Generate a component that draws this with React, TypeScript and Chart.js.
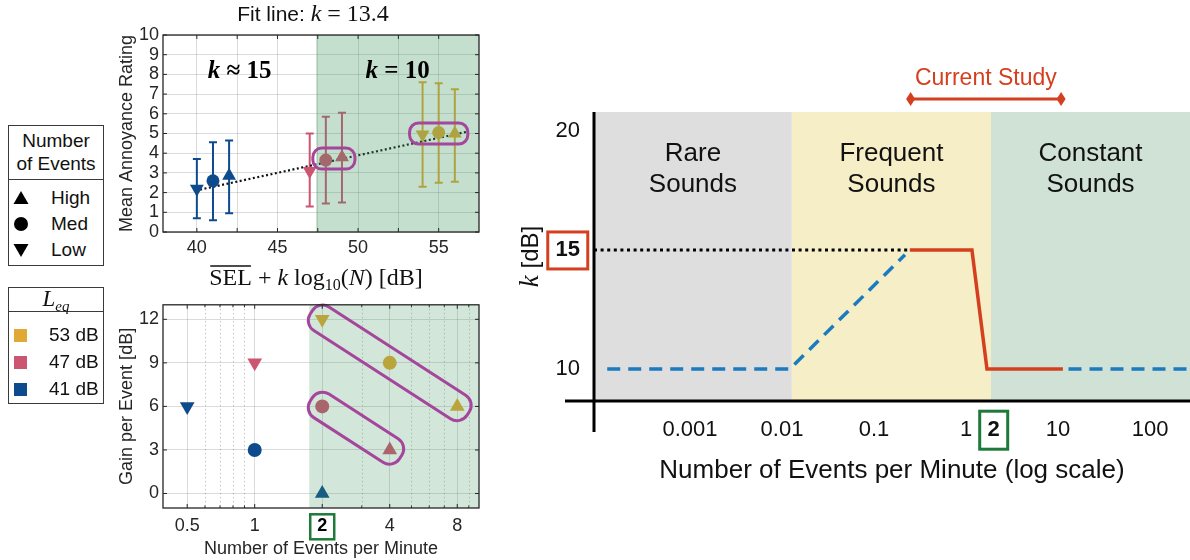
import React, { useEffect, useRef } from 'react';
import { Chart, registerables } from 'chart.js';

Chart.register(...registerables);

const SANS = '"Liberation Sans", Arial, Helvetica, sans-serif';
const SERIF = '"Liberation Serif", "DejaVu Serif", serif';
const INK = '#262626';
const GRID = 'rgba(0,0,0,0.14)';
const PURPLE = '#a4469c';
const RED = '#d4401f';
const BLUE = '#1b7bbf';
const GREENBOX = '#1e7a38';

// ===== legends =====
const eventLegend = ['High', 'Med', 'Low'];
const eventLegendShapes = ['up', 'circle', 'down'];
const leqLegend = ['53 dB', '47 dB', '41 dB'];
const leqColors = ['#e0a935', '#cc5672', '#0d4b8d'];

// data order inside every series: Low, Med, High number of events
const markerStyles = ['triangle', 'circle', 'triangle'];
const markerRotations = [180, 0, 0];

// ===== top-left: mean annoyance vs SEL + k log10(N) =====
const topX53 = [54, 55, 56];
const topMean53 = [4.95, 5.05, 5.0];
const topLow53 = [2.3, 2.5, 2.55];
const topHigh53 = [7.6, 7.55, 7.25];
const topX47 = [47, 48, 49];
const topMean47 = [3.1, 3.65, 3.8];
const topLow47 = [1.3, 1.45, 1.5];
const topHigh47 = [5.0, 5.85, 6.05];
const topX41 = [40, 41, 42];
const topMean41 = [2.2, 2.6, 2.85];
const topLow41 = [0.7, 0.6, 0.95];
const topHigh41 = [3.7, 4.55, 4.65];
const fitX = [40.2, 56.7];
const fitY = [2.15, 5.08];
const topXTicks = [40, 42.5, 45, 47.5, 50, 52.5, 55];
const topYTicks = [0, 1, 2, 3, 4, 5, 6, 7, 8, 9, 10];
const topXRange = [37.9, 57.5];
const topYRange = [0, 10];
const topShadeFrom = 47.4;
const topKLabelY = 8.2;
const topKRare = ' ≈ 15';
const topKConst = ' = 10';
const fitK = '13.4';

// ===== bottom-left: gain per event vs events per minute =====
const botN53 = [2, 4, 8];
const botGain53 = [12, 9, 6];
const botN47 = [1, 2, 4];
const botGain47 = [9, 6, 3];
const botN41 = [0.5, 1, 2];
const botGain41 = [6, 3, 0];
const botXTicks = [0.5, 1, 2, 4, 8];
const botXMinor = [0.6, 0.7, 0.8, 0.9, 3, 5, 6, 7, 9];
const botYTicks = [0, 3, 6, 9, 12];
const botXRange = [0.39, 10];
const botYRange = [-1, 13];
const botShadeFrom = 1.75;
const studyN = 2;

// ===== right: conceptual k vs events per minute =====
const kYTicks = [10, 15, 20];
const kXTicks = [0.001, 0.01, 0.1, 1, 2, 10, 100];
const kXRange = [9.05e-5, 272];
const kYRange = [8.65, 20.8];
const kHighlight = 15;
const regionNames = [['Rare', 'Sounds'], ['Frequent', 'Sounds'], ['Constant', 'Sounds']];
const regionEdges = [9.05e-5, 0.0128, 1.87, 272];
const regionColors = ['#dedede', '#f5eec6', '#cfe2d5'];
const dottedX = [9.05e-5, 0.245];
const dottedK = [15, 15];
const studyX = [0.245, 1.16, 1.69, 11.3];
const studyK = [15, 15, 10, 10];
const modelX1 = [1.26e-4, 0.0122, 0.217];
const modelK1 = [10, 10, 14.8];
const modelX2 = [13, 272];
const modelK2 = [10, 10];
const studyRange = [0.25, 10.8];

type Run = { t: string; f: string; dy?: number; over?: number };

function drawRuns(ctx: CanvasRenderingContext2D, runs: Run[], cx: number, baseline: number, color: string) {
  ctx.save();
  ctx.fillStyle = color;
  ctx.strokeStyle = color;
  ctx.textAlign = 'left';
  ctx.textBaseline = 'alphabetic';
  let total = 0;
  const ws = runs.map((r) => {
    ctx.font = r.f;
    const w = ctx.measureText(r.t).width;
    total += w;
    return w;
  });
  let x = cx - total / 2;
  runs.forEach((r, i) => {
    ctx.font = r.f;
    ctx.fillText(r.t, x, baseline + (r.dy || 0));
    if (r.over) {
      ctx.lineWidth = 1.3;
      ctx.beginPath();
      ctx.moveTo(x + 1, baseline - r.over);
      ctx.lineTo(x + ws[i] - 1, baseline - r.over);
      ctx.stroke();
    }
    x += ws[i];
  });
  ctx.restore();
}

function roundRectPath(ctx: CanvasRenderingContext2D, x: number, y: number, w: number, h: number, r: number) {
  ctx.beginPath();
  ctx.moveTo(x + r, y);
  ctx.lineTo(x + w - r, y);
  ctx.arcTo(x + w, y, x + w, y + r, r);
  ctx.lineTo(x + w, y + h - r);
  ctx.arcTo(x + w, y + h, x + w - r, y + h, r);
  ctx.lineTo(x + r, y + h);
  ctx.arcTo(x, y + h, x, y + h - r, r);
  ctx.lineTo(x, y + r);
  ctx.arcTo(x, y, x + r, y, r);
  ctx.closePath();
}

function capsule(ctx: CanvasRenderingContext2D, x1: number, y1: number, x2: number, y2: number, pad: number, half: number, r: number) {
  const ang = Math.atan2(y2 - y1, x2 - x1);
  const len = Math.hypot(x2 - x1, y2 - y1);
  ctx.save();
  ctx.translate(x1, y1);
  ctx.rotate(ang);
  roundRectPath(ctx, -pad, -half, len + 2 * pad, 2 * half, r);
  ctx.strokeStyle = PURPLE;
  ctx.lineWidth = 3;
  ctx.stroke();
  ctx.restore();
}

function boxTicks(chart: any, len: number) {
  const { ctx, chartArea: a } = chart;
  const xs = chart.scales.x;
  const ys = chart.scales.y;
  ctx.save();
  ctx.strokeStyle = INK;
  ctx.lineWidth = 1;
  ctx.beginPath();
  xs.ticks.forEach((t: any) => {
    const p = xs.getPixelForValue(t.value);
    ctx.moveTo(p, a.bottom);
    ctx.lineTo(p, a.bottom - len);
    ctx.moveTo(p, a.top);
    ctx.lineTo(p, a.top + len);
  });
  ys.ticks.forEach((t: any) => {
    const p = ys.getPixelForValue(t.value);
    ctx.moveTo(a.left, p);
    ctx.lineTo(a.left + len, p);
    ctx.moveTo(a.right, p);
    ctx.lineTo(a.right - len, p);
  });
  ctx.stroke();
  ctx.lineWidth = 1.3;
  ctx.strokeRect(a.left, a.top, a.right - a.left, a.bottom - a.top);
  ctx.restore();
}

function pts(xs: number[], ys: number[]) {
  return xs.map((x, i) => ({ x, y: ys[i] }));
}

function markerDataset(label: string, xs: number[], ys: number[], color: string, rTri: number, rCir: number) {
  return {
    label,
    data: pts(xs, ys),
    backgroundColor: color,
    borderColor: color,
    borderWidth: 0,
    pointStyle: markerStyles,
    pointRotation: markerRotations,
    pointRadius: markerStyles.map((s) => (s === 'circle' ? rCir : rTri)),
    pointHoverRadius: markerStyles.map((s) => (s === 'circle' ? rCir : rTri)),
    showLine: false,
  };
}

const topSeries = [
  { label: leqLegend[0], x: topX53, mean: topMean53, lo: topLow53, hi: topHigh53, color: leqColors[0] },
  { label: leqLegend[1], x: topX47, mean: topMean47, lo: topLow47, hi: topHigh47, color: leqColors[1] },
  { label: leqLegend[2], x: topX41, mean: topMean41, lo: topLow41, hi: topHigh41, color: leqColors[2] },
];
// highlighted groups: [series index, point indices]
const topGroups: [number, number[]][] = [[1, [1, 2]], [0, [0, 1, 2]]];

const botSeries = [
  { label: leqLegend[0], n: botN53, g: botGain53, color: leqColors[0] },
  { label: leqLegend[1], n: botN47, g: botGain47, color: leqColors[1] },
  { label: leqLegend[2], n: botN41, g: botGain41, color: leqColors[2] },
];
const botGroups: [number, number[]][] = [[0, [0, 1, 2]], [1, [1, 2]]];

const topPlugin = {
  id: 'topDecor',
  beforeDatasetsDraw(chart: any) {
    const { ctx } = chart;
    const xs = chart.scales.x;
    const ys = chart.scales.y;
    ctx.save();
    topSeries.forEach((s) => {
      ctx.strokeStyle = s.color;
      ctx.lineWidth = 2;
      s.x.forEach((x, i) => {
        const px = xs.getPixelForValue(x);
        const p1 = ys.getPixelForValue(s.lo[i]);
        const p2 = ys.getPixelForValue(s.hi[i]);
        ctx.beginPath();
        ctx.moveTo(px, p1);
        ctx.lineTo(px, p2);
        ctx.moveTo(px - 4, p1);
        ctx.lineTo(px + 4, p1);
        ctx.moveTo(px - 4, p2);
        ctx.lineTo(px + 4, p2);
        ctx.stroke();
      });
    });
    ctx.restore();
  },
  afterDatasetsDraw(chart: any) {
    const { ctx, chartArea: a } = chart;
    const xs = chart.scales.x;
    const ys = chart.scales.y;
    const sx = xs.getPixelForValue(topShadeFrom);
    ctx.save();
    ctx.fillStyle = 'rgba(62,150,92,0.30)';
    ctx.fillRect(sx, a.top, a.right - sx, a.bottom - a.top);
    ctx.restore();

    topGroups.forEach(([si, idx]) => {
      const s = topSeries[si];
      const x1 = xs.getPixelForValue(s.x[idx[0]]);
      const x2 = xs.getPixelForValue(s.x[idx[idx.length - 1]]);
      const yAvg = idx.reduce((acc, i) => acc + ys.getPixelForValue(s.mean[i]), 0) / idx.length;
      capsule(ctx, x1, yAvg, x2, yAvg, 13, 10.5, 9);
    });

    const ky = ys.getPixelForValue(topKLabelY) + 8;
    const kx1 = xs.getPixelForValue((topXRange[0] + topShadeFrom) / 2);
    const kx2 = xs.getPixelForValue((topShadeFrom + topXRange[1]) / 2);
    drawRuns(ctx, [{ t: 'k', f: `bold italic 25px ${SERIF}` }, { t: topKRare, f: `bold 25px ${SERIF}` }], kx1, ky, '#000');
    drawRuns(ctx, [{ t: 'k', f: `bold italic 25px ${SERIF}` }, { t: topKConst, f: `bold 25px ${SERIF}` }], kx2, ky, '#000');

    boxTicks(chart, 4);

    const cx = (a.left + a.right) / 2 - 8;
    drawRuns(
      ctx,
      [
        { t: 'Fit line: ', f: `21px ${SANS}` },
        { t: 'k', f: `italic 24px ${SERIF}` },
        { t: ' = ' + fitK, f: `24px ${SERIF}` },
      ],
      cx,
      21,
      '#111'
    );
    drawRuns(
      ctx,
      [
        { t: 'SEL', f: `24px ${SERIF}`, over: 19 },
        { t: ' + ', f: `24px ${SERIF}` },
        { t: 'k', f: `italic 24px ${SERIF}` },
        { t: ' log', f: `24px ${SERIF}` },
        { t: '10', f: `16px ${SERIF}`, dy: 5 },
        { t: '(', f: `24px ${SERIF}` },
        { t: 'N', f: `italic 24px ${SERIF}` },
        { t: ') [dB]', f: `24px ${SERIF}` },
      ],
      cx + 3,
      285,
      '#111'
    );
  },
};

const botPlugin = {
  id: 'botDecor',
  beforeDatasetsDraw(chart: any) {
    const { ctx, chartArea: a } = chart;
    const xs = chart.scales.x;
    ctx.save();
    ctx.strokeStyle = 'rgba(0,0,0,0.22)';
    ctx.lineWidth = 1;
    ctx.setLineDash([1.5, 2.5]);
    botXMinor.forEach((v) => {
      const p = Math.round(xs.getPixelForValue(v)) + 0.5;
      ctx.beginPath();
      ctx.moveTo(p, a.top);
      ctx.lineTo(p, a.bottom);
      ctx.stroke();
    });
    ctx.setLineDash([]);
    ctx.strokeStyle = INK;
    ctx.beginPath();
    botXMinor.forEach((v) => {
      const p = xs.getPixelForValue(v);
      ctx.moveTo(p, a.bottom);
      ctx.lineTo(p, a.bottom - 2.5);
      ctx.moveTo(p, a.top);
      ctx.lineTo(p, a.top + 2.5);
    });
    ctx.stroke();
    ctx.restore();
  },
  afterDatasetsDraw(chart: any) {
    const { ctx, chartArea: a } = chart;
    const xs = chart.scales.x;
    const ys = chart.scales.y;
    const sx = xs.getPixelForValue(botShadeFrom);
    ctx.save();
    ctx.fillStyle = 'rgba(62,150,92,0.23)';
    ctx.fillRect(sx, a.top, a.right - sx, a.bottom - a.top);
    ctx.restore();

    botGroups.forEach(([si, idx]) => {
      const s = botSeries[si];
      const i1 = idx[0];
      const i2 = idx[idx.length - 1];
      capsule(
        ctx,
        xs.getPixelForValue(s.n[i1]),
        ys.getPixelForValue(s.g[i1]),
        xs.getPixelForValue(s.n[i2]),
        ys.getPixelForValue(s.g[i2]),
        13,
        14,
        12
      );
    });

    boxTicks(chart, 4);

    const px = xs.getPixelForValue(studyN);
    const cy = a.bottom + 8 + 10.8;
    ctx.save();
    ctx.strokeStyle = GREENBOX;
    ctx.lineWidth = 2.5;
    ctx.strokeRect(px - 12, cy - 12.5, 24, 25);
    ctx.restore();
  },
};

const rightPlugin = {
  id: 'rightDecor',
  beforeDatasetsDraw(chart: any) {
    const { ctx, chartArea: a } = chart;
    const xs = chart.scales.x;
    ctx.save();
    regionColors.forEach((c, i) => {
      const x1 = Math.max(a.left, xs.getPixelForValue(regionEdges[i]));
      const x2 = Math.min(a.right, xs.getPixelForValue(regionEdges[i + 1]));
      ctx.fillStyle = c;
      ctx.fillRect(x1, a.top, x2 - x1, a.bottom - a.top);
      ctx.fillStyle = '#111';
      ctx.font = `26px ${SANS}`;
      ctx.textAlign = 'center';
      ctx.textBaseline = 'middle';
      regionNames[i].forEach((line, j) => {
        ctx.fillText(line, (x1 + x2) / 2, a.top + 42 + j * 31);
      });
    });
    ctx.restore();
  },
  afterDatasetsDraw(chart: any) {
    const { ctx, chartArea: a } = chart;
    const xs = chart.scales.x;
    const ys = chart.scales.y;
    ctx.save();
    // axes
    ctx.strokeStyle = '#000';
    ctx.lineWidth = 3;
    ctx.beginPath();
    ctx.moveTo(a.left, a.top);
    ctx.lineTo(a.left, a.bottom + 31);
    ctx.moveTo(a.left - 29, a.bottom);
    ctx.lineTo(a.right, a.bottom);
    ctx.stroke();

    // boxed 15
    ctx.font = `bold 22px ${SANS}`;
    const tw = ctx.measureText(String(kHighlight)).width;
    const bx = a.left - 14 - tw / 2;
    const by = ys.getPixelForValue(kHighlight);
    ctx.strokeStyle = RED;
    ctx.lineWidth = 3;
    ctx.strokeRect(bx - 20, by - 18, 40, 37);

    // boxed 2
    const gx = xs.getPixelForValue(studyN);
    const gy = a.bottom + 16 + 13.2;
    ctx.strokeStyle = GREENBOX;
    ctx.strokeRect(gx - 14, gy - 19, 28, 38);

    // current study range
    const sx1 = xs.getPixelForValue(studyRange[0]);
    const sx2 = xs.getPixelForValue(studyRange[1]);
    const sy = 99;
    ctx.strokeStyle = RED;
    ctx.fillStyle = RED;
    ctx.lineWidth = 3;
    ctx.beginPath();
    ctx.moveTo(sx1, sy);
    ctx.lineTo(sx2, sy);
    ctx.stroke();
    [sx1, sx2].forEach((x) => {
      ctx.beginPath();
      ctx.moveTo(x, sy - 7);
      ctx.lineTo(x + 4.5, sy);
      ctx.lineTo(x, sy + 7);
      ctx.lineTo(x - 4.5, sy);
      ctx.closePath();
      ctx.fill();
    });
    ctx.font = `23px ${SANS}`;
    ctx.textAlign = 'center';
    ctx.textBaseline = 'middle';
    ctx.fillText('Current Study', (sx1 + sx2) / 2, 79);

    // y title
    ctx.translate(30, (a.top + a.bottom) / 2);
    ctx.rotate(-Math.PI / 2);
    drawRuns(ctx, [{ t: 'k', f: `italic 27px ${SERIF}` }, { t: ' [dB]', f: `24px ${SANS}` }], 0, 8, '#111');
    ctx.restore();
  },
};

function TopChart() {
  const ref = useRef<HTMLCanvasElement>(null);
  useEffect(() => {
    if (!ref.current) return;
    const datasets: any[] = topSeries.map((s) => markerDataset(s.label, s.x, s.mean, s.color, 8, 6.5));
    datasets.push({
      label: 'Fit line',
      data: pts(fitX, fitY),
      showLine: true,
      borderColor: '#111',
      borderWidth: 2.2,
      borderDash: [2, 2.5],
      pointRadius: 0,
    });
    const chart = new Chart(ref.current, {
      type: 'scatter',
      data: { datasets },
      options: {
        responsive: false,
        animation: false,
        devicePixelRatio: 1,
        layout: { padding: { top: 35, right: 11, left: 0, bottom: 0 } },
        plugins: { legend: { display: false }, tooltip: { enabled: false } },
        scales: {
          x: {
            type: 'linear',
            min: topXRange[0],
            max: topXRange[1],
            afterBuildTicks: (s: any) => {
              s.ticks = topXTicks.map((v) => ({ value: v }));
            },
            afterFit: (s: any) => {
              s.height = 58;
            },
            grid: { color: GRID, drawTicks: false },
            border: { display: false },
            ticks: {
              padding: 5,
              autoSkip: false,
              maxRotation: 0,
              color: INK,
              font: { family: SANS, size: 18 },
              callback: (v: any) => (Number(v) % 5 === 0 ? String(v) : ''),
            },
          },
          y: {
            type: 'linear',
            min: topYRange[0],
            max: topYRange[1],
            afterBuildTicks: (s: any) => {
              s.ticks = topYTicks.map((v) => ({ value: v }));
            },
            afterFit: (s: any) => {
              s.width = 63;
            },
            grid: { color: GRID, drawTicks: false },
            border: { display: false },
            ticks: { padding: 4, autoSkip: false, color: INK, font: { family: SANS, size: 18 }, callback: (v: any) => String(v) },
            title: {
              display: true,
              text: 'Mean Annoyance Rating',
              color: INK,
              font: { family: SANS, size: 18 },
              padding: { top: 16, bottom: 0 },
            },
          },
        },
      } as any,
      plugins: [topPlugin],
    });
    return () => chart.destroy();
  }, []);
  return <canvas ref={ref} width={390} height={290} style={{ position: 'absolute', left: 100, top: 0, width: 390, height: 290 }} />;
}

function BottomChart() {
  const ref = useRef<HTMLCanvasElement>(null);
  useEffect(() => {
    if (!ref.current) return;
    const datasets: any[] = botSeries.map((s) => markerDataset(s.label, s.n, s.g, s.color, 8.5, 7));
    const chart = new Chart(ref.current, {
      type: 'scatter',
      data: { datasets },
      options: {
        responsive: false,
        animation: false,
        devicePixelRatio: 1,
        layout: { padding: { top: 7, right: 11, left: 0, bottom: 0 } },
        plugins: { legend: { display: false }, tooltip: { enabled: false } },
        scales: {
          x: {
            type: 'logarithmic',
            min: botXRange[0],
            max: botXRange[1],
            afterBuildTicks: (s: any) => {
              s.ticks = botXTicks.map((v) => ({ value: v }));
            },
            afterFit: (s: any) => {
              s.height = 52;
            },
            grid: { color: GRID, drawTicks: false },
            border: { display: false },
            ticks: {
              padding: 7,
              autoSkip: false,
              maxRotation: 0,
              color: (c: any) => (c.tick && c.tick.value === studyN ? '#000' : INK),
              font: (c: any) => ({ family: SANS, size: 18, weight: c.tick && c.tick.value === studyN ? 'bold' : 'normal' }),
              callback: (v: any) => String(v),
            },
            title: {
              display: true,
              text: 'Number of Events per Minute',
              color: INK,
              font: { family: SANS, size: 18 },
              padding: { top: 0, bottom: 0 },
            },
          },
          y: {
            type: 'linear',
            min: botYRange[0],
            max: botYRange[1],
            afterBuildTicks: (s: any) => {
              s.ticks = botYTicks.map((v) => ({ value: v }));
            },
            afterFit: (s: any) => {
              s.width = 63;
            },
            grid: { color: GRID, drawTicks: false },
            border: { display: false },
            ticks: { padding: 4, autoSkip: false, color: INK, font: { family: SANS, size: 18 }, callback: (v: any) => String(v) },
            title: {
              display: true,
              text: 'Gain per Event [dB]',
              color: INK,
              font: { family: SANS, size: 18 },
              padding: { top: 16, bottom: 0 },
            },
          },
        },
      } as any,
      plugins: [botPlugin],
    });
    return () => chart.destroy();
  }, []);
  return <canvas ref={ref} width={390} height={270} style={{ position: 'absolute', left: 100, top: 290, width: 390, height: 270 }} />;
}

function RightChart() {
  const ref = useRef<HTMLCanvasElement>(null);
  useEffect(() => {
    if (!ref.current) return;
    const line = (label: string, xs: number[], ys: number[], color: string, width: number, dash: number[]) => ({
      label,
      data: pts(xs, ys),
      showLine: true,
      borderColor: color,
      backgroundColor: color,
      borderWidth: width,
      borderDash: dash,
      borderCapStyle: 'butt',
      borderJoinStyle: 'miter',
      pointRadius: 0,
    });
    const datasets: any[] = [
      line('Current study', studyX, studyK, RED, 3.5, []),
      line('Model (rare to frequent)', modelX1, modelK1, BLUE, 3.5, [13, 8]),
      line('Model (constant)', modelX2, modelK2, BLUE, 3.5, [13, 8]),
      line('k = 15 reference', dottedX, dottedK, '#000', 3, [3, 3.6]),
    ];
    const chart = new Chart(ref.current, {
      type: 'scatter',
      data: { datasets },
      options: {
        responsive: false,
        animation: false,
        devicePixelRatio: 1,
        layout: { padding: { top: 112, right: 0, left: 0, bottom: 0 } },
        plugins: { legend: { display: false }, tooltip: { enabled: false } },
        scales: {
          x: {
            type: 'logarithmic',
            min: kXRange[0],
            max: kXRange[1],
            afterBuildTicks: (s: any) => {
              s.ticks = kXTicks.map((v) => ({ value: v }));
            },
            afterFit: (s: any) => {
              s.height = 159;
            },
            grid: { display: false, drawTicks: false },
            border: { display: false },
            ticks: {
              padding: 16,
              autoSkip: false,
              maxRotation: 0,
              color: '#111',
              font: (c: any) => ({ family: SANS, size: 22, weight: c.tick && c.tick.value === studyN ? 'bold' : 'normal' }),
              callback: (v: any) => String(v),
            },
            title: {
              display: true,
              text: 'Number of Events per Minute (log scale)',
              color: '#111',
              font: { family: SANS, size: 26 },
              padding: { top: 0, bottom: 74 },
            },
          },
          y: {
            type: 'linear',
            min: kYRange[0],
            max: kYRange[1],
            afterBuildTicks: (s: any) => {
              s.ticks = kYTicks.map((v) => ({ value: v }));
            },
            afterFit: (s: any) => {
              s.width = 94;
            },
            grid: { display: false, drawTicks: false },
            border: { display: false },
            ticks: {
              padding: 14,
              autoSkip: false,
              color: '#111',
              font: (c: any) => ({ family: SANS, size: 22, weight: c.tick && c.tick.value === kHighlight ? 'bold' : 'normal' }),
              callback: (v: any) => String(v),
            },
          },
        },
      } as any,
      plugins: [rightPlugin],
    });
    return () => chart.destroy();
  }, []);
  return <canvas ref={ref} width={690} height={560} style={{ position: 'absolute', left: 500, top: 0, width: 690, height: 560 }} />;
}

function Shape({ kind, color }: { kind: string; color: string }) {
  return (
    <svg width={18} height={18} viewBox="0 0 18 18" style={{ display: 'block' }}>
      {kind === 'up' && <polygon points="9,2 16.5,15 1.5,15" fill={color} />}
      {kind === 'down' && <polygon points="1.5,3 16.5,3 9,16" fill={color} />}
      {kind === 'circle' && <circle cx={9} cy={9} r={7} fill={color} />}
    </svg>
  );
}

function Legends() {
  const border = '1.5px solid #3a3a3a';
  return (
    <>
      <div
        style={{
          position: 'absolute',
          left: 8,
          top: 125,
          width: 96,
          height: 141,
          border,
          boxSizing: 'border-box',
          fontFamily: SANS,
          fontSize: 19,
          color: '#111',
          background: '#fff',
        }}
      >
        <div style={{ height: 54, borderBottom: border, textAlign: 'center', lineHeight: '23px', paddingTop: 3, boxSizing: 'border-box' }}>
          Number
          <br />
          of Events
        </div>
        {eventLegend.map((t, i) => (
          <div key={t} style={{ position: 'absolute', left: 0, top: 60 + i * 26, height: 24, display: 'flex', alignItems: 'center' }}>
            <div style={{ marginLeft: 3, width: 18 }}>
              <Shape kind={eventLegendShapes[i]} color="#000" />
            </div>
            <span style={{ marginLeft: 21 }}>{t}</span>
          </div>
        ))}
      </div>
      <div
        style={{
          position: 'absolute',
          left: 8,
          top: 287,
          width: 96,
          height: 117,
          border,
          boxSizing: 'border-box',
          fontFamily: SANS,
          fontSize: 19,
          color: '#111',
          background: '#fff',
        }}
      >
        <div
          style={{
            height: 24,
            borderBottom: border,
            textAlign: 'center',
            lineHeight: '22px',
            fontFamily: SERIF,
            fontStyle: 'italic',
            fontSize: 23,
            boxSizing: 'border-box',
          }}
        >
          L<sub style={{ fontSize: 15, verticalAlign: -5 }}>eq</sub>
        </div>
        {leqLegend.map((t, i) => (
          <div key={t} style={{ position: 'absolute', left: 0, top: 35 + i * 27, height: 24, display: 'flex', alignItems: 'center' }}>
            <div style={{ marginLeft: 5, width: 13, height: 13, background: leqColors[i] }} />
            <span style={{ marginLeft: 22 }}>{t}</span>
          </div>
        ))}
      </div>
    </>
  );
}

export default function App() {
  return (
    <div style={{ position: 'absolute', left: 0, top: 0, width: 1190, height: 560, background: '#fff', overflow: 'hidden' }}>
      <TopChart />
      <BottomChart />
      <RightChart />
      <Legends />
    </div>
  );
}
